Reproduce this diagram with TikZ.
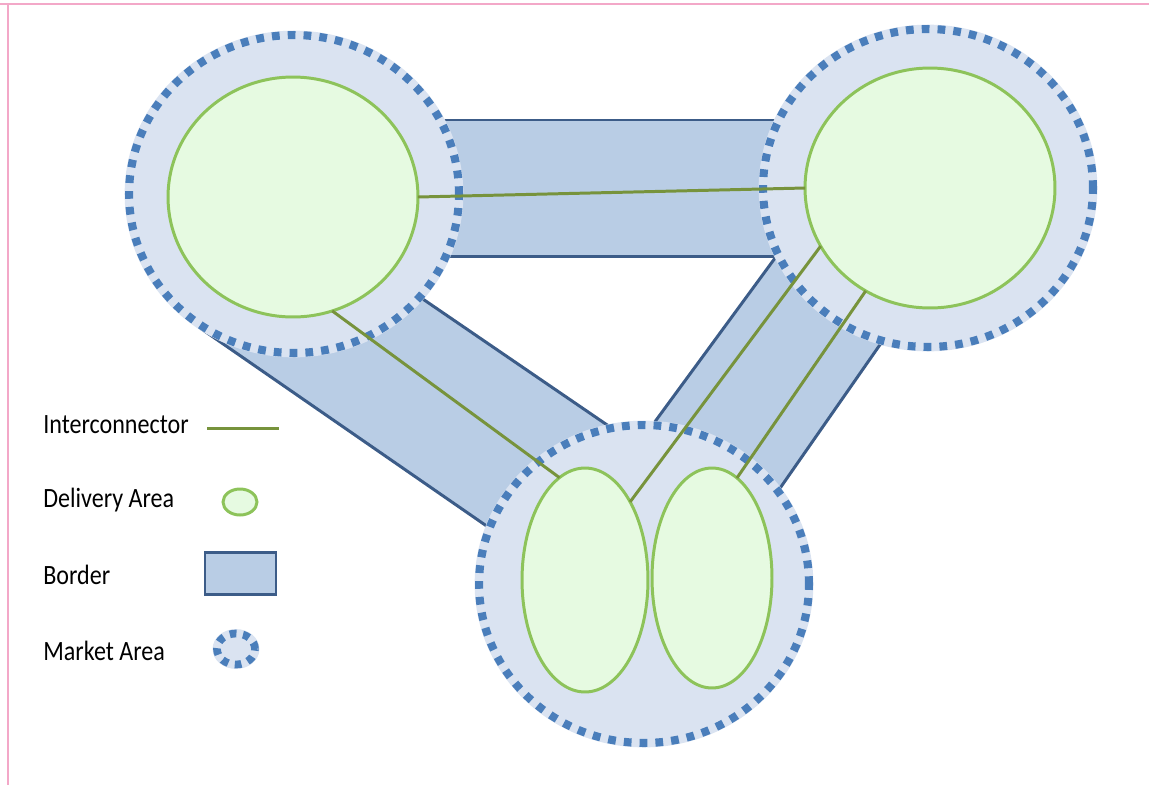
\documentclass[tikz,border=0pt]{standalone}
\usepackage{fontspec}
\usepackage{graphicx}
\setmainfont{Carlito}
\usetikzlibrary{shapes.geometric}

\definecolor{framepink}{RGB}{243,168,200}
\definecolor{marketfill}{RGB}{218,227,241}
\definecolor{marketdot}{RGB}{74,126,187}
\definecolor{bandfill}{RGB}{185,205,229}
\definecolor{bandline}{RGB}{60,92,136}
\definecolor{areafill}{RGB}{230,250,225}
\definecolor{arealine}{RGB}{141,195,90}
\definecolor{icline}{RGB}{119,147,60}
\newcommand{\legendlabel}[1]{\scalebox{1}[1.16]{#1}}

\begin{document}
\begin{tikzpicture}[x=0.02cm,y=-0.02cm,
  market/.style={ellipse,minimum width=6.6cm,minimum height=6.36cm,inner sep=0pt,outer sep=0pt,
    fill=marketfill,preaction={draw=marketfill,solid,line width=5pt},
    draw=marketdot,line width=4.6pt,dash pattern=on 4.4pt off 4.6pt},
  area/.style={ellipse,inner sep=0pt,outer sep=0pt,fill=areafill,draw=arealine,line width=1.7pt},
  band/.style={fill=bandfill,draw=bandline,line width=1.7pt},
  ic/.style={draw=icline,line width=1.7pt},
  legendtext/.style={anchor=base west,inner sep=0pt,font=\fontsize{13.7}{16}\selectfont}]
\useasboundingbox (0,0) rectangle (1149,785);
\draw[framepink,line width=1.2pt] (0,4) -- (1149,4);
\draw[framepink,line width=1.2pt] (8,4) -- (8,785);

\draw[band] (430,120) rectangle (790,256);
\draw[band] (395,280) -- (635,444) -- (504,538) -- (203,330) -- cycle;
\draw[band] (789,239) -- (643,438) -- (769,504) -- (893,326) -- cycle;

\node[market] (mA) at (294,194) {};
\node[market] (mB) at (928,188) {};
\node[market] (mC) at (644,584) {};

\node[area,minimum width=5cm,minimum height=4.8cm] (dA) at (293,197) {};
\node[area,minimum width=5cm,minimum height=4.8cm] (dB) at (930,188) {};
\node[area,minimum width=2.52cm,minimum height=4.48cm] (dC1) at (585,580) {};
\node[area,minimum width=2.4cm,minimum height=4.4cm] (dC2) at (712,578) {};

\draw[ic] (dA.east) -- (dB.west);
\draw[ic] (dA.-71) -- (dC1.104);
\draw[ic] (dB.208.6) -- (dC1.60);
\draw[ic] (dB.238) -- (dC2.76);

\node[legendtext] (tIC) at (43,433) {\legendlabel{Interconnector}};
\node[legendtext] (tDA) at (43,507) {\legendlabel{Delivery Area}};
\node[legendtext] (tBO) at (43,584) {\legendlabel{Border}};
\node[legendtext] (tMA) at (43,660) {\legendlabel{Market Area}};

\coordinate (icL) at (207,428);
\coordinate (icR) at (279,428);
\draw[ic] (icL) -- (icR);
\node[area,minimum width=0.68cm,minimum height=0.52cm] (kDA) at (240,502) {};
\draw[band] (205,552) rectangle (276,594);
\node[market,minimum width=0.76cm,minimum height=0.62cm,line width=4.4pt,dash pattern=on 3.8pt off 3.8pt,
  preaction={draw=marketfill,solid,line width=4.4pt}] (kMA) at (236,649) {};
\end{tikzpicture}
\end{document}
